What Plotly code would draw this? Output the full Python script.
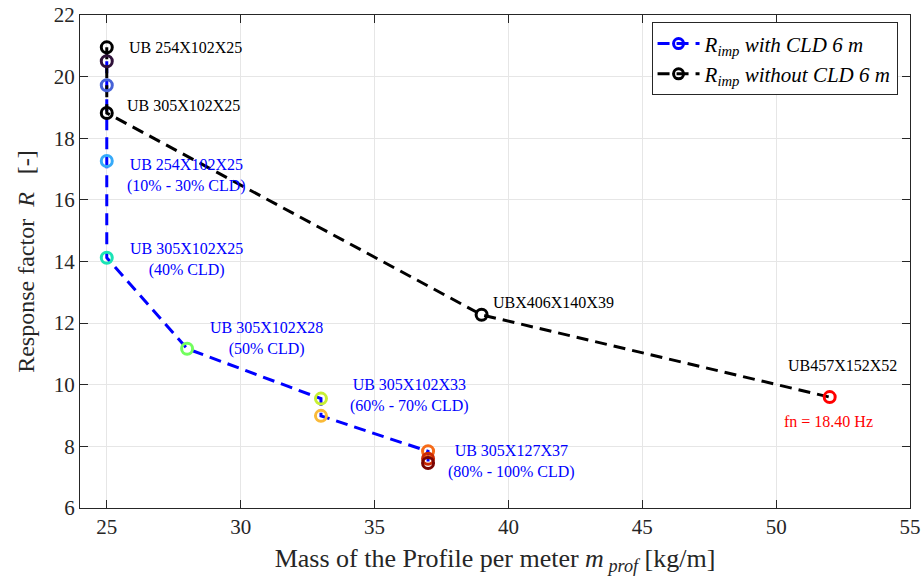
import plotly.graph_objects as go

# Data
x_cld = [25, 25, 25, 25, 28, 33, 33, 37, 37, 37]
y_cld = [20.5, 19.72, 17.26, 14.12, 11.17, 9.55, 8.99, 7.84, 7.6, 7.46]
cld_colors = ["#30123b", "#4662d7", "#36aaf9", "#1ae4b6", "#72fe5e",
              "#c8ef34", "#faba39", "#f66b19", "#cb2a04", "#7a0403"]

x_nocld = [25, 25, 39, 52]
y_nocld = [20.95, 18.82, 12.27, 9.6]
nocld_colors = ["black", "black", "black", "#ff0000"]

labels = [
    # text, x, y, color
    ("UB 254X102X25", 25.76, 20.95, "black"),
    ("UB 305X102X25", 25.68, 19.05, "black"),
    ("UB 254X102X25<br>(10% - 30% CLD)", 25.68, 16.8, "#0000ff"),
    ("UB 305X102X25<br>(40% CLD)", 25.8, 14.05, "#0000ff"),
    ("UB 305X102X28<br>(50% CLD)", 28.78, 11.49, "#0000ff"),
    ("UB 305X102X33<br>(60% - 70% CLD)", 34.01, 9.64, "#0000ff"),
    ("UB 305X127X37<br>(80% - 100% CLD)", 37.67, 7.5, "#0000ff"),
    ("UBX406X140X39", 39.35, 12.66, "black"),
    ("UB457X152X52", 50.37, 10.62, "black"),
]
fn_label = ("fn = 18.40 Hz", 51.94, 8.8)

x_ticks = [25, 30, 35, 40, 45, 50, 55]
y_ticks = [6, 8, 10, 12, 14, 16, 18, 20, 22]

FONT = "Liberation Serif"
DASH = "12px,7px"

fig = go.Figure()

fig.add_trace(go.Scatter(x=x_cld, y=y_cld, mode="lines",
                         line=dict(color="#0000ff", width=3, dash=DASH),
                         showlegend=False, hoverinfo="skip"))
fig.add_trace(go.Scatter(x=x_nocld, y=y_nocld, mode="lines",
                         line=dict(color="black", width=3, dash=DASH),
                         showlegend=False, hoverinfo="skip"))

fig.add_trace(go.Scatter(x=x_cld, y=y_cld, mode="markers",
                         marker=dict(symbol="circle-open", size=11, color=cld_colors,
                                     line=dict(width=3, color=cld_colors)),
                         showlegend=False))
fig.add_trace(go.Scatter(x=x_nocld, y=y_nocld, mode="markers",
                         marker=dict(symbol="circle-open", size=11, color=nocld_colors,
                                     line=dict(width=3, color=nocld_colors)),
                         showlegend=False))

# legend entries
fig.add_trace(go.Scatter(x=[None], y=[None], mode="lines+markers",
                         line=dict(color="#0000ff", width=3, dash=DASH),
                         marker=dict(symbol="circle-open", size=10, color="#0000ff",
                                     line=dict(width=3)),
                         name="<i>R</i><sub><i>imp</i></sub><i> with CLD 6 m</i>"))
fig.add_trace(go.Scatter(x=[None], y=[None], mode="lines+markers",
                         line=dict(color="black", width=3, dash=DASH),
                         marker=dict(symbol="circle-open", size=10, color="black",
                                     line=dict(width=3)),
                         name="<i>R</i><sub><i>imp</i></sub><i> without CLD 6 m</i>"))

for text, x, y, color in labels:
    fig.add_annotation(x=x, y=y, xref="x", yref="y", text=text, showarrow=False,
                       xanchor="left", yanchor="middle", align="center",
                       font=dict(family=FONT, size=16, color=color))
fig.add_annotation(x=fn_label[1], y=fn_label[2], xref="x", yref="y", text=fn_label[0],
                   showarrow=False, xanchor="center", yanchor="middle",
                   font=dict(family=FONT, size=16, color="#ff0000"))

axis_common = dict(showgrid=True, gridcolor="#e6e6e6", gridwidth=1,
                   showline=True, linecolor="#262626", linewidth=1, mirror="ticks",
                   ticks="inside", ticklen=8, tickcolor="#262626", automargin=False,
                   zeroline=False, tickfont=dict(family=FONT, size=21, color="#262626"))

fig.update_xaxes(range=[24, 55], tickvals=x_ticks,
                 title=dict(text="Mass of the Profile per meter <i>m</i><sub><i> prof</i></sub> [kg/m]",
                            font=dict(family=FONT, size=26, color="#262626"), standoff=10),
                 **axis_common)
fig.update_yaxes(range=[6, 22], tickvals=y_ticks,
                 title=dict(text="Response factor  <i>R</i>   [-]",
                            font=dict(family=FONT, size=24, color="#262626"), standoff=12),
                 **axis_common)

fig.update_layout(
    width=924, height=588,
    margin=dict(l=80, r=14, t=15, b=80),
    plot_bgcolor="white", paper_bgcolor="white",
    font=dict(family=FONT),
    legend=dict(x=0.985, y=0.985, xanchor="right", yanchor="top",
                bgcolor="white", bordercolor="#262626", borderwidth=1,
                font=dict(family=FONT, size=21, color="black"),
                itemwidth=42, tracegroupgap=2),
)

fig.write_html("out.html")
